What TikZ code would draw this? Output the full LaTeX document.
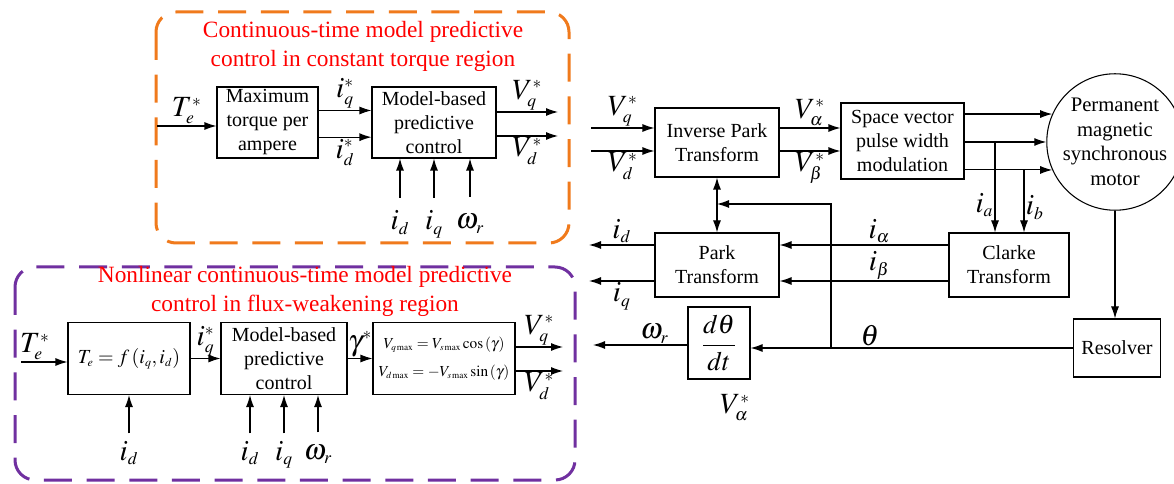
\documentclass[tikz,border=0pt]{standalone}
\usepackage{mathptmx}
\usepackage[no-math]{fontspec}
\setmainfont{Liberation Serif}
\usetikzlibrary{arrows.meta,positioning}
\definecolor{ctorange}{HTML}{F07A1C}
\definecolor{fwpurple}{HTML}{7030A0}
\makeatletter
\renewcommand\defaultscriptratio{.6}
\makeatother

\begin{document}
\begin{tikzpicture}[
    x=0.75pt, y=-0.75pt,
    blk/.style={draw, line width=0.8pt, align=center, inner sep=1pt, font=\fontsize{15}{18}\selectfont},
    lbl/.style={inner sep=1pt, font=\fontsize{22}{26}\selectfont},
    ttl/.style={align=center, text=red, font=\fontsize{17.5}{21.75}\selectfont},
    arr/.style={-{Latex[length=9pt,width=6pt]}, line width=0.8pt},
    biarr/.style={{Latex[length=9pt,width=6pt]}-{Latex[length=9pt,width=6pt]}, line width=0.8pt},
    region/.style={line width=2.25pt, dash pattern=on 21pt off 11pt, rounded corners=15pt},
]
\useasboundingbox (0,0) rectangle (1174,484);

% Constant torque region
\draw[region, ctorange] (156,12) rectangle (569,243);
\node[ttl] (ttlct) at (363,46) {Continuous-time model predictive\\control in constant torque region};

\node[blk, minimum width=75.75pt, minimum height=53.25pt] (mtpa) at (267.5,122.5) {Maximum\\torque per\\ampere};
\node[blk, minimum width=93pt, minimum height=53.25pt] (mpcct) at (434,122.5) {Model-based\\predictive\\control};

\coordinate (tect) at (157,126);
\draw[arr] (tect) -- (tect -| mtpa.west) node[midway, above, lbl] (ltect) {$T_e^*$};
\draw[arr] ([yshift=9pt]mtpa.east) -- ([yshift=9pt]mpcct.west) node[midway, above, lbl] (liqct) {$i_q^*$};
\draw[arr] ([yshift=-11pt]mtpa.east) -- ([yshift=-11pt]mpcct.west) node[midway, below, lbl] (lidct) {$i_d^*$};

\coordinate (vqct) at (558,112);
\coordinate (vdct) at (558,136);
\draw[arr] (mpcct.east |- vqct) -- (vqct) node[midway, above, lbl] (lvqct) {$V_q^*$};
\draw[arr] (mpcct.east |- vdct) -- (vdct) node[midway, below, lbl] (lvdct) {$V_d^*$};

\node[lbl, anchor=base] (idct) at (400,230) {$i_d$};
\node[lbl, anchor=base] (iqct) at (434,230) {$i_q$};
\node[lbl, anchor=base] (wrct) at (470,229) {$\omega_r$};
\draw[arr] ([yshift=24pt]idct.base) -- (idct.base |- mpcct.south);
\draw[arr] ([yshift=24pt]iqct.base) -- (iqct.base |- mpcct.south);
\draw[arr] ([yshift=24pt]wrct.base) -- (wrct.base |- mpcct.south);

% Flux-weakening region
\draw[region, fwpurple] (15,267) rectangle (575,480);
\node[ttl] (ttlfw) at (305,291) {Nonlinear continuous-time model predictive\\control in flux-weakening region};

\node[blk, minimum width=91.5pt, minimum height=54pt] (tefn) at (129,358.5) {$T_e=f\left(i_q,i_d\right)$};
\node[blk, minimum width=94.5pt, minimum height=54pt] (mpcfw) at (284,358.5) {Model-based\\predictive\\control};
\node[blk, minimum width=106.5pt, minimum height=54pt, font=\fontsize{11.5}{21}\selectfont] (vmax) at (444,358.5)
    {$V_{q\max}=V_{s\max}\cos\left(\gamma\right)$\\$V_{d\max}=-V_{s\max}\sin\left(\gamma\right)$};

\coordinate (tefw) at (21,362);
\draw[arr] (tefw) -- (tefw -| tefn.west) node[pos=0.3, above, lbl] (ltefw) {$T_e^*$};
\draw[arr] (tefn.east) -- (mpcfw.west) node[midway, above, lbl] (liqfw) {$i_q^*$};
\draw[arr] (mpcfw.east) -- (vmax.west) node[midway, above, lbl] (lgam) {$\gamma^*$};

\coordinate (vqfw) at (563,347);
\coordinate (vdfw) at (563,371);
\draw[arr] (vmax.east |- vqfw) -- (vqfw) node[midway, above, lbl] (lvqfw) {$V_q^*$};
\draw[arr] (vmax.east |- vdfw) -- (vdfw) node[midway, below, lbl] (lvdfw) {$V_d^*$};

\node[lbl, anchor=base] (idte) at (129,460) {$i_d$};
\node[lbl, anchor=base] (idfw) at (250,460) {$i_d$};
\node[lbl, anchor=base] (iqfw) at (284,460) {$i_q$};
\node[lbl, anchor=base] (wrfw) at (318,459) {$\omega_r$};
\draw[arr] ([yshift=20pt]idte.base) -- (idte.base |- tefn.south);
\draw[arr] ([yshift=20pt]idfw.base) -- (idfw.base |- mpcfw.south);
\draw[arr] ([yshift=20pt]iqfw.base) -- (iqfw.base |- mpcfw.south);
\draw[arr] ([yshift=20pt]wrfw.base) -- (wrfw.base |- mpcfw.south);

% Drive side
\node[blk, minimum width=93pt, minimum height=51.75pt] (ipark) at (717,142.5) {Inverse Park\\Transform};
\node[blk, minimum width=92.25pt, minimum height=57pt] (svpwm) at (902.5,141) {Space vector\\pulse width\\modulation};
\node[draw, circle, line width=0.8pt, minimum size=87pt, inner sep=0pt, align=center, font=\fontsize{15.5}{18.5}\selectfont] (motor) at (1115,142) {Permanent\\magnetic\\synchronous\\motor};
\node[blk, minimum width=93pt, minimum height=48pt] (park) at (717,265) {Park\\Transform};
\node[blk, minimum width=90pt, minimum height=48pt] (clarke) at (1009,265) {Clarke\\Transform};
\node[blk, minimum width=65.25pt, minimum height=43.5pt] (res) at (1117,348) {Resolver};
\node[blk, minimum width=46.5pt, minimum height=54pt, font=\fontsize{20}{22}\selectfont] (dth) at (719,343) {$\displaystyle\frac{d\theta}{dt}$};

\coordinate (vqin) at (591,128);
\coordinate (vdin) at (591,151);
\draw[arr] (vqin) -- (vqin -| ipark.west) node[midway, above, lbl] (lvqin) {$V_q^*$};
\draw[arr] (vdin) -- (vdin -| ipark.west) node[midway, below, lbl] (lvdin) {$V_d^*$};
\draw[arr] (ipark.east |- vqin) -- (svpwm.west |- vqin) node[midway, above, lbl] (lval) {$V_\alpha^*$};
\draw[arr] (ipark.east |- vdin) -- (svpwm.west |- vdin) node[midway, below, lbl] (lvbe) {$V_\beta^*$};

\draw[arr] (svpwm.east |- motor.156) -- (motor.156);
\draw[arr] (svpwm.east |- motor.180) -- (motor.180);
\draw[arr] (svpwm.east |- motor.204) -- (motor.204);

\draw[arr] ([xshift=-10.5pt]clarke.north |- motor.180) -- ([xshift=-10.5pt]clarke.north) node[pos=0.7, left, lbl] (lia) {$i_a$};
\draw[arr] ([xshift=11.25pt]clarke.north |- motor.204) -- ([xshift=11.25pt]clarke.north) node[pos=0.6, right, lbl] (lib) {$i_b$};

\draw[arr] ([yshift=15pt]clarke.west) -- ([yshift=15pt]park.east) node[pos=0.41, above, lbl] (lial) {$i_\alpha$};
\draw[arr] ([yshift=-12pt]clarke.west) -- ([yshift=-12pt]park.east) node[pos=0.41, above, lbl] (libe) {$i_\beta$};

\coordinate (idout) at (589,245);
\coordinate (iqout) at (589,281);
\draw[arr] ([yshift=15pt]park.west) -- (idout) node[midway, above, lbl] (lidout) {$i_d$};
\draw[arr] ([yshift=-12pt]park.west) -- (iqout) node[midway, below, lbl] (liqout) {$i_q$};

\draw[biarr] (ipark.south) -- (park.north);

\draw[arr] (motor.south) -- (motor.south |- res.north);
\draw[arr] (res.west) -- (res.west -| dth.east) node[pos=0.63, above, lbl] (lth) {$\theta$};
\coordinate (thj) at (831,348);
\coordinate (fbk) at (831,204);
\draw[arr] (thj) -- (fbk) -- (fbk -| ipark.south);

\coordinate (wrout) at (593,345);
\draw[arr] (dth.west |- wrout) -- (wrout) node[pos=0.35, above, lbl] (lwrout) {$\omega_r$};

\node[lbl] (lvalx) at (735,408) {$V_\alpha^*$};

\end{tikzpicture}
\end{document}
